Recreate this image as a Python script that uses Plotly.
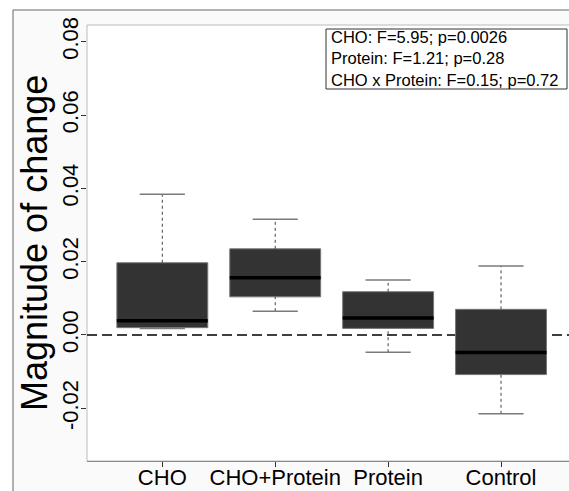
import plotly.graph_objects as go

categories = ["CHO", "CHO+Protein", "Protein", "Control"]
upper_whisker = [0.0384, 0.0316, 0.0150, 0.0188]
q3_values = [0.0197, 0.0235, 0.0118, 0.0070]
median_values = [0.0039, 0.0156, 0.0046, -0.0048]
q1_values = [0.0020, 0.0104, 0.0018, -0.0108]
lower_whisker = [0.0018, 0.0065, -0.0047, -0.0215]
y_ticks = [-0.02, 0.00, 0.02, 0.04, 0.06, 0.08]
stats_lines = [
    "CHO: F=5.95; p=0.0026",
    "Protein: F=1.21; p=0.28",
    "CHO x Protein: F=0.15; p=0.72",
]

W, H = 569, 491
ML, MT, MB, MR = 87, 25, 30, 0
PW, PH = W - ML - MR, H - MT - MB


def px_x(px):
    return (px - ML) / PW


def px_y(py):
    return (H - MB - py) / PH


FONT = "Liberation Sans, Arial, sans-serif"
pos = list(range(1, len(categories) + 1))
BOX_W = 0.805
CAP_HALF = 0.2
MED_HALF = BOX_W / 2

fig = go.Figure()

fig.add_trace(go.Box(
    x=pos, q1=q1_values, median=median_values, q3=q3_values,
    lowerfence=q1_values, upperfence=q3_values,
    width=BOX_W, whiskerwidth=0,
    fillcolor="#333333", line=dict(color="#777777", width=1),
    boxpoints=False, showlegend=False, hoverinfo="skip",
))

# whiskers (dashed)
wx, wy = [], []
for p, lo, q1, q3, hi in zip(pos, lower_whisker, q1_values, q3_values, upper_whisker):
    wx += [p, p, None, p, p, None]
    wy += [q3, hi, None, lo, q1, None]
fig.add_trace(go.Scatter(x=wx, y=wy, mode="lines",
                         line=dict(color="#444444", width=1, dash="3px,3px"),
                         showlegend=False, hoverinfo="skip"))

# caps
cx, cy = [], []
for p, lo, hi in zip(pos, lower_whisker, upper_whisker):
    cx += [p - CAP_HALF, p + CAP_HALF, None, p - CAP_HALF, p + CAP_HALF, None]
    cy += [hi, hi, None, lo, lo, None]
fig.add_trace(go.Scatter(x=cx, y=cy, mode="lines",
                         line=dict(color="#7a7a7a", width=1.5),
                         showlegend=False, hoverinfo="skip"))

# medians
mx, my = [], []
for p, m in zip(pos, median_values):
    mx += [p - MED_HALF, p + MED_HALF, None]
    my += [m, m, None]
fig.add_trace(go.Scatter(x=mx, y=my, mode="lines",
                         line=dict(color="#000000", width=3.5),
                         showlegend=False, hoverinfo="skip"))

shapes = [
    dict(type="rect", xref="paper", yref="paper",
         x0=px_x(13), x1=px_x(W + 20), y0=px_y(H + 20), y1=px_y(10),
         fillcolor="#fafafa", line=dict(color="#666666", width=1), layer="below"),
    dict(type="rect", xref="paper", yref="paper",
         x0=0, x1=px_x(W + 20), y0=0, y1=1,
         fillcolor="#ffffff", line=dict(color="#bbbbbb", width=1), layer="below"),
    dict(type="line", xref="paper", yref="y", x0=0, x1=1, y0=0, y1=0,
         line=dict(color="#000000", width=1.5, dash="10px,5px"), layer="below"),
    dict(type="rect", xref="paper", yref="paper",
         x0=px_x(326), x1=px_x(567), y0=px_y(89), y1=px_y(29),
         fillcolor="rgba(0,0,0,0)", line=dict(color="#333333", width=1), layer="above"),
]

annotations = [
    dict(text="Magnitude of change", xref="paper", yref="paper",
         x=px_x(34), y=px_y(243), xanchor="center", yanchor="middle",
         textangle=-90, showarrow=False,
         font=dict(family=FONT, size=36, color="#000000")),
    dict(text="<br>".join(stats_lines), xref="paper", yref="paper",
         x=px_x(329), y=px_y(59), xanchor="left", yanchor="middle",
         align="left", showarrow=False,
         font=dict(family=FONT, size=16.5, color="#000000")),
]

fig.update_layout(
    width=W, height=H,
    margin=dict(l=ML, r=MR, t=MT, b=MB, pad=0, autoexpand=False),
    paper_bgcolor="#ffffff", plot_bgcolor="#ffffff",
    shapes=shapes, annotations=annotations, showlegend=False,
    xaxis=dict(range=[0.333, 4.602], tickmode="array", tickvals=pos,
               ticktext=categories, ticks="outside", ticklen=5,
               tickcolor="#333333", showline=True, linecolor="#888888",
               linewidth=1, showgrid=False, zeroline=False, automargin=False,
               ticklabelstandoff=-8,
               tickfont=dict(family=FONT, size=22, color="#000000")),
    yaxis=dict(range=[-0.03437, 0.08455], tickmode="array", tickvals=y_ticks,
               ticktext=[f"{v:.2f}" for v in y_ticks], tickangle=-90,
               ticks="outside", ticklen=5, tickcolor="#333333",
               showline=False, showgrid=False, zeroline=False, automargin=False,
               ticklabelstandoff=-6,
               tickfont=dict(family=FONT, size=22, color="#000000")),
)

fig.write_html("out.html")
